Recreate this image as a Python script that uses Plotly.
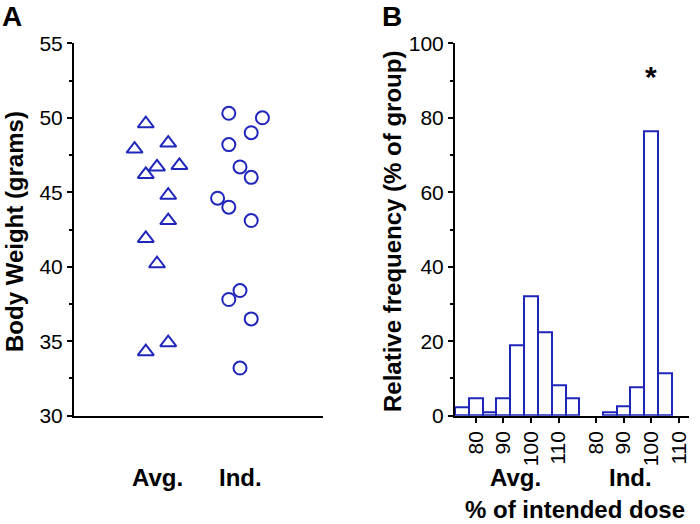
import plotly.graph_objects as go

# ---------------- data ----------------
groups = ["Avg.", "Ind."]

# Panel A: body weights (grams) and the jitter column each point sits in
avg_weights = [49.6, 47.9, 48.3, 46.7, 46.8, 46.2, 44.8, 43.1, 41.9, 40.2, 34.9, 34.3]
avg_slots = [-1, -2, 1, 0, 2, -1, 1, 1, -1, 0, 1, -1]
ind_weights = [50.3, 50.0, 49.0, 48.2, 46.7, 46.0, 44.6, 44.0, 43.1, 38.4, 37.8, 36.5, 33.2]
ind_slots = [-1, 2, 1, -1, 0, 1, -2, -1, 1, 0, -1, 1, 0]

# Panel B: relative frequency (% of group) by % of intended dose (5% bins)
avg_bins = [75, 80, 85, 90, 95, 100, 105, 110, 115]
avg_freq = [2.2, 4.7, 1.0, 4.7, 18.8, 32.0, 22.5, 8.1, 4.7]
ind_bins = [85, 90, 95, 100, 105]
ind_freq = [1.0, 2.4, 7.6, 76.3, 11.5]
dose_ticks = [80, 90, 100, 110]

# ---------------- styling ----------------
BLUE = "#1f26bb"
FONT = "Liberation Sans, Arial, sans-serif"
W, H = 700, 524
JITTER = 0.135
IND_SHIFT = 43.5   # horizontal gap between the two histogram groups
BIN_W = 5


def px(x):
    return x / W


def py(y):
    return 1 - y / H


fig = go.Figure()

fig.add_trace(go.Scatter(
    x=[0 + s * JITTER for s in avg_slots], y=avg_weights, mode="markers",
    marker=dict(symbol="triangle-up-open", size=14, color=BLUE, line=dict(width=2, color=BLUE)),
    xaxis="x", yaxis="y", showlegend=False, cliponaxis=False))
fig.add_trace(go.Scatter(
    x=[1 + s * JITTER for s in ind_slots], y=ind_weights, mode="markers",
    marker=dict(symbol="circle-open", size=13, color=BLUE, line=dict(width=2, color=BLUE)),
    xaxis="x", yaxis="y", showlegend=False, cliponaxis=False))

fig.add_trace(go.Bar(
    x=avg_bins, y=avg_freq, width=BIN_W,
    marker=dict(color="white", line=dict(color=BLUE, width=2)),
    xaxis="x2", yaxis="y2", showlegend=False))
fig.add_trace(go.Bar(
    x=[b + IND_SHIFT for b in ind_bins], y=ind_freq, width=BIN_W,
    marker=dict(color="white", line=dict(color=BLUE, width=2)),
    xaxis="x2", yaxis="y2", showlegend=False))

ydom = [py(415.7), py(43.3)]
tickfont = dict(family=FONT, size=21, color="black")
axis_common = dict(showline=True, linecolor="black", linewidth=2, showgrid=False,
                   zeroline=False, mirror=False, automargin=False)

fig.update_layout(
    width=W, height=H,
    margin=dict(l=0, r=0, t=0, b=0, autoexpand=False),
    paper_bgcolor="white", plot_bgcolor="white",
    barmode="overlay", bargap=0,
    font=dict(family=FONT, color="black"),
    xaxis=dict(domain=[px(74), px(323)], range=[-1, 2], anchor="y",
               showticklabels=False, ticks="", **axis_common),
    yaxis=dict(domain=ydom, range=[30, 55], anchor="x", tickmode="linear", tick0=30, dtick=5,
               ticks="outside", ticklen=5, tickwidth=2, tickcolor="black", tickfont=tickfont,
               minor=dict(dtick=2.5, ticks="outside", ticklen=3, tickwidth=2, tickcolor="black"),
               **axis_common),
    xaxis2=dict(domain=[px(455), px(689)], range=[72.5, 157.2], anchor="y2",
                tickmode="array",
                tickvals=dose_ticks + [t + IND_SHIFT for t in dose_ticks],
                ticktext=[str(t) for t in dose_ticks] * 2,
                tickangle=-90, ticks="outside", ticklen=5, tickwidth=2, tickcolor="black",
                tickfont=tickfont, **axis_common),
    yaxis2=dict(domain=ydom, range=[0, 100], anchor="x2", tickmode="linear", tick0=0, dtick=20,
                ticks="outside", ticklen=5, tickwidth=2, tickcolor="black", tickfont=tickfont,
                minor=dict(dtick=10, ticks="outside", ticklen=3, tickwidth=2, tickcolor="black"),
                **axis_common),
)

bold = dict(family=FONT, size=24, color="black")
ann = []
# panel letters
ann.append(dict(text="<b>A</b>", x=px(12), y=py(16), font=dict(family=FONT, size=28, color="black")))
ann.append(dict(text="<b>B</b>", x=px(392), y=py(16), font=dict(family=FONT, size=28, color="black")))
# axis titles
ann.append(dict(text="<b>Body Weight (grams)</b>", x=px(14), y=py(232), textangle=-90, font=bold))
ann.append(dict(text="<b>Relative frequency (% of group)</b>", x=px(392), y=py(232), textangle=-90, font=bold))
ann.append(dict(text="<b>% of intended dose</b>", x=px(575), y=py(509), font=bold))
# group labels panel A
for i, g in enumerate(groups):
    ann.append(dict(text="<b>%s</b>" % g, x=i, xref="x", y=py(477), font=bold))
# group labels panel B
ann.append(dict(text="<b>%s</b>" % groups[0], x=px(515), y=py(477), font=bold))
ann.append(dict(text="<b>%s</b>" % groups[1], x=px(630), y=py(477), font=bold))
# significance star
ann.append(dict(text="<b>*</b>", x=100 + IND_SHIFT, xref="x2", y=py(76), font=dict(family=FONT, size=30, color="black")))

for a in ann:
    a.setdefault("xref", "paper")
    a.setdefault("yref", "paper")
    a.update(showarrow=False, xanchor="center", yanchor="middle", borderpad=0)
fig.update_layout(annotations=ann)

fig.write_html("out.html", config={"displayModeBar": False},
               post_script="document.body.style.margin='0';document.body.style.overflow='hidden';")
